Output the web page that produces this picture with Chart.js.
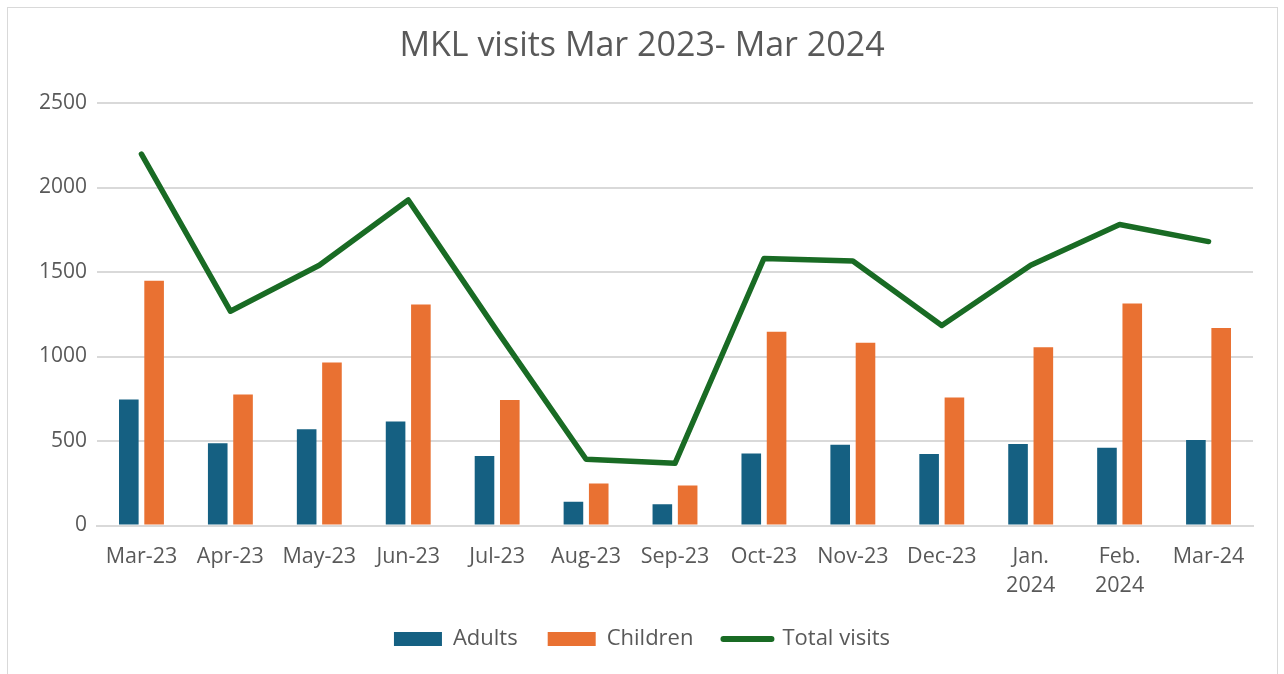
<!DOCTYPE html>
<html>
<head>
<meta charset="utf-8">
<title>MKL visits</title>
<script src="https://cdn.jsdelivr.net/npm/chart.js@4"></script>
<style>
  html, body { margin: 0; padding: 0; background: #fff; }
  #wrap { width: 1284px; height: 674px; position: relative; }
</style>
</head>
<body>
<div id="wrap"><canvas id="visitsChart" width="1284" height="674"></canvas></div>
<script>
// Monthly visits
const months = ['Mar-23', 'Apr-23', 'May-23', 'Jun-23', 'Jul-23', 'Aug-23', 'Sep-23',
  'Oct-23', 'Nov-23', 'Dec-23', ['Jan.', '2024'], ['Feb.', '2024'], 'Mar-24'];
const adults = [745, 486, 569, 616, 411, 140, 126, 426, 478, 423, 482, 460, 506];
const children = [1448, 775, 965, 1308, 743, 248, 236, 1147, 1082, 757, 1054, 1313, 1169];
const totalVisits = [2198, 1268, 1540, 1926, 1150, 392, 368, 1580, 1565, 1184, 1540, 1781, 1680];
const yTicks = [0, 500, 1000, 1500, 2000, 2500];

const textColor = '#595959';
const gridColor = '#D9D9D9';
const fontName = "'Open Sans', 'Liberation Sans', sans-serif";

// light frame round the whole chart
const framePlugin = {
  id: 'frame',
  beforeDraw(chart) {
    const ctx = chart.ctx;
    ctx.save();
    ctx.fillStyle = '#fff';
    ctx.fillRect(0, 0, chart.width, chart.height);
    ctx.strokeStyle = gridColor;
    ctx.lineWidth = 1;
    ctx.strokeRect(7.5, 7.5, 1270, 700);
    ctx.restore();
  }
};

const ctx = document.getElementById('visitsChart').getContext('2d');
new Chart(ctx, {
  data: {
    labels: months,
    datasets: [
      {
        type: 'line',
        label: 'Total visits',
        data: totalVisits,
        borderColor: '#196B24',
        backgroundColor: '#196B24',
        borderWidth: 5.5,
        pointRadius: 0,
        borderCapStyle: 'round',
        borderJoinStyle: 'round',
        tension: 0,
        order: 0
      },
      {
        type: 'bar',
        label: 'Adults',
        data: adults,
        backgroundColor: '#156082',
        categoryPercentage: 0.569,
        barPercentage: 0.775,
        order: 1
      },
      {
        type: 'bar',
        label: 'Children',
        data: children,
        backgroundColor: '#E97132',
        categoryPercentage: 0.569,
        barPercentage: 0.775,
        order: 1
      }
    ]
  },
  options: {
    responsive: false,
    animation: false,
    layout: { padding: { top: 0, left: 31, right: 31, bottom: 14 } },
    plugins: {
      title: {
        display: true,
        text: 'MKL visits Mar 2023- Mar 2024',
        color: textColor,
        font: { family: fontName, size: 34, weight: 'normal', lineHeight: 1.2 },
        padding: { top: 26, bottom: 36.2 }
      },
      legend: {
        position: 'bottom',
        labels: {
          color: textColor,
          font: { family: fontName, size: 22 },
          usePointStyle: true,
          pointStyleWidth: 48,
          boxHeight: 14,
          padding: 30,
          sort: (a, b) => {
            const order = ['Adults', 'Children', 'Total visits'];
            return order.indexOf(a.text) - order.indexOf(b.text);
          },
          generateLabels(chart) {
            const items = Chart.defaults.plugins.legend.labels.generateLabels(chart);
            items.forEach(item => {
              const ds = chart.data.datasets[item.datasetIndex];
              if (ds.type === 'line') {
                item.pointStyle = 'line';
                item.strokeStyle = ds.borderColor;
                item.lineWidth = 6;
                item.lineCap = 'round';
              } else {
                item.pointStyle = 'rect';
                item.fillStyle = ds.backgroundColor;
                item.strokeStyle = ds.backgroundColor;
                item.lineWidth = 0;
              }
            });
            return items;
          }
        }
      },
      tooltip: { enabled: false }
    },
    scales: {
      x: {
        grid: { display: false, drawTicks: false },
        border: { display: true, color: gridColor, width: 2 },
        ticks: {
          color: textColor,
          font: { family: fontName, size: 21.5, lineHeight: 1.35 },
          padding: 16.5,
          maxRotation: 0,
          autoSkip: false
        },
        afterFit(scale) { scale.height = 72.5; }
      },
      y: {
        min: 0,
        max: 2500,
        afterBuildTicks(scale) {
          scale.ticks = yTicks.map(v => ({ value: v }));
        },
        grid: { color: gridColor, lineWidth: 2, drawTicks: false },
        border: { display: false },
        ticks: {
          color: textColor,
          font: { family: fontName, size: 21 },
          padding: 10,
          callback: v => String(v)
        },
        afterFit(scale) { scale.width = 66; }
      }
    }
  },
  plugins: [framePlugin]
});
</script>
</body>
</html>
